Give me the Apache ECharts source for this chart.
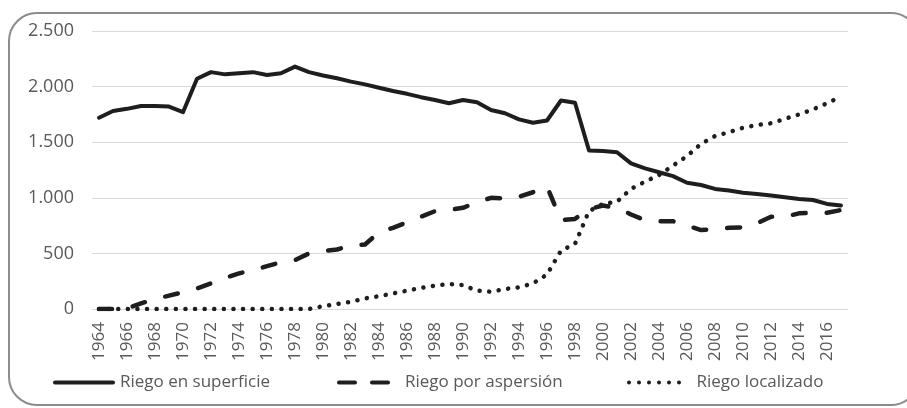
<!DOCTYPE html>
<html>
<head>
<meta charset="utf-8">
<script src="https://cdn.jsdelivr.net/npm/echarts@6/dist/echarts.min.js"></script>
<style>
html, body { margin: 0; padding: 0; background: #fff; }
#chart { width: 907px; height: 408px; }
</style>
</head>
<body>
<div id="chart"></div>
<script>
var years = ['1964', '1965', '1966', '1967', '1968', '1969', '1970', '1971', '1972', '1973',
	'1974', '1975', '1976', '1977', '1978', '1979', '1980', '1981', '1982', '1983',
	'1984', '1985', '1986', '1987', '1988', '1989', '1990', '1991', '1992', '1993',
	'1994', '1995', '1996', '1997', '1998', '1999', '2000', '2001', '2002', '2003',
	'2004', '2005', '2006', '2007', '2008', '2009', '2010', '2011', '2012', '2013',
	'2014', '2015', '2016', '2017'];

var superficie = [1720, 1780, 1800, 1825, 1825, 1820, 1770, 2070, 2130, 2110,
	2120, 2130, 2105, 2120, 2180, 2130, 2100, 2075, 2045, 2020,
	1990, 1960, 1935, 1905, 1880, 1850, 1880, 1860, 1790, 1760,
	1705, 1675, 1695, 1875, 1855, 1425, 1420, 1410, 1310, 1265,
	1230, 1195, 1135, 1115, 1080, 1065, 1045, 1035, 1020, 1005,
	990, 980, 945, 930];

var aspersion = [0, 0, 5, 50, 90, 120, 150, 185, 230, 280,
	320, 350, 385, 420, 440, 500, 520, 535, 570, 580,
	690, 730, 780, 830, 880, 890, 910, 960, 1000, 995,
	1010, 1050, 1100, 800, 810, 900, 930, 910, 850, 800,
	790, 790, 750, 710, 720, 730, 735, 770, 830, 830,
	860, 865, 865, 890];

var localizado = [0, 0, 0, 0, 0, 0, 0, 0, 0, 0,
	0, 0, 0, 0, 0, 0, 25, 45, 65, 95,
	115, 140, 165, 190, 210, 225, 215, 165, 155, 180,
	195, 230, 310, 525, 585, 880, 945, 965, 1080, 1145,
	1205, 1290, 1375, 1485, 1555, 1590, 1630, 1655, 1670, 1710,
	1750, 1795, 1850, 1910];

var seriesNames = ['Riego en superficie', 'Riego por aspersión', 'Riego localizado'];
var yTicks = [0, 500, 1000, 1500, 2000, 2500];

var lineColor = '#1e1e1e';
var textColor = '#595959';
var fontName = '"Open Sans", "Liberation Sans", sans-serif';

// iconos de la leyenda (línea, guiones, puntos)
var iconSolid = 'path://M2,0h58a2,2 0 0,1 0,4h-58a2,2 0 0,1 0,-4z';
var iconDash = 'path://M2,0h16a2,2 0 0,1 0,4h-16a2,2 0 0,1 0,-4z M35,0h16a2,2 0 0,1 0,4h-16a2,2 0 0,1 0,-4z';
var iconDot = 'path://' + [0, 10, 20, 30, 40, 50].map(function (x) {
	return 'M' + x + ',2a2,2 0 1,0 4,0a2,2 0 1,0 -4,0z';
}).join(' ');

var chartDom = document.getElementById('chart');
var myChart = echarts.init(chartDom);
var option;

// miles con punto, como en el original
const fmt = function (v) {
	return String(v).replace(/\B(?=(\d{3})+(?!\d))/g, '.');
};

const legendBase = function (name, icon, left, width, pad) {
	return {
		top: 374,
		left: left,
		padding: 0,
		itemWidth: width,
		itemHeight: 4,
		icon: icon,
		selectedMode: false,
		itemStyle: { color: lineColor },
		textStyle: {
			color: textColor,
			fontSize: 17,
			fontFamily: fontName,
			padding: [0, 0, 0, pad]
		},
		data: [name]
	};
};

option = {
	animation: false,
	graphic: [
		{
			type: 'rect',
			shape: { x: 9, y: 13, width: 910, height: 392, r: 28 },
			style: { fill: 'none', stroke: '#8c8c8c', lineWidth: 2 },
			silent: true
		}
	],
	grid: {
		left: 92,
		right: 59,
		top: 31,
		bottom: 99
	},
	legend: [
		legendBase(seriesNames[0], iconSolid, 53, 62, 0),
		legendBase(seriesNames[1], iconDash, 337, 53, 10),
		legendBase(seriesNames[2], iconDot, 627, 55, 10)
	],
	xAxis: {
		type: 'category',
		data: years,
		boundaryGap: true,
		axisTick: { show: false },
		axisLine: { lineStyle: { color: '#d9d9d9', width: 1 } },
		axisLabel: {
			rotate: 90,
			interval: 1,
			margin: 13,
			color: textColor,
			fontSize: 17,
			fontFamily: fontName
		}
	},
	yAxis: {
		type: 'value',
		min: yTicks[0],
		max: yTicks[yTicks.length - 1],
		interval: 500,
		axisLine: { show: false },
		axisTick: { show: false },
		splitLine: { lineStyle: { color: '#d9d9d9', width: 1 } },
		axisLabel: {
			margin: 18,
			color: textColor,
			fontSize: 18,
			fontFamily: fontName,
			formatter: fmt
		}
	},
	series: [
		{
			name: seriesNames[0],
			type: 'line',
			data: superficie,
			symbol: 'none',
			color: lineColor,
			lineStyle: { color: lineColor, width: 4, cap: 'round', join: 'round' }
		},
		{
			name: seriesNames[1],
			type: 'line',
			data: aspersion,
			symbol: 'none',
			color: lineColor,
			lineStyle: { color: lineColor, width: 4.5, type: [13, 21], cap: 'round', join: 'round' }
		},
		{
			name: seriesNames[2],
			type: 'line',
			data: localizado,
			symbol: 'none',
			color: lineColor,
			lineStyle: { color: lineColor, width: 4.5, type: [0.1, 9.5], cap: 'round', join: 'round' }
		}
	]
};

option && myChart.setOption(option);
</script>
</body>
</html>
